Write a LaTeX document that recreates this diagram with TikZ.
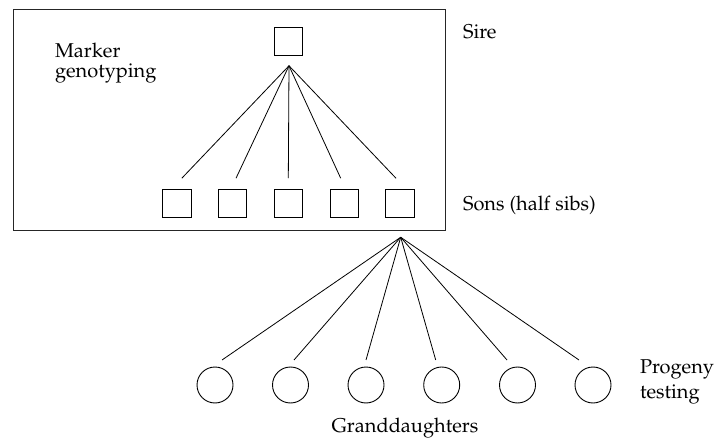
\documentclass[tikz,border=0pt]{standalone}
\usepackage[T1]{fontenc}
\usepackage{mathpazo}
\usetikzlibrary{calc}
\begin{document}
\begin{tikzpicture}[x=1pt,y=-1pt,
  every node/.style={inner sep=0pt, outer sep=0pt},
  frame/.style={draw, line width=1pt, black!85},
  sqbox/.style={draw, line width=0.9pt, minimum size=28.5pt},
  kid/.style={draw, circle, line width=0.9pt, minimum size=36pt},
  link/.style={line width=0.8pt},
  lbl/.style={font=\fontsize{20}{20}\selectfont, anchor=base west, align=left}]
\useasboundingbox (0,0) rectangle (717,438);

% genotyped part of the pedigree
\node[frame, minimum width=432pt, minimum height=221pt] (box) at (229.5,120.5) {};

% sire and its sons
\node[sqbox] (sire) at (288.5,41.5) {};
\coordinate (sireapex) at ($(sire.south)+(0.5,10)$);
\foreach \i/\x/\dx in {1/176.8/5,2/232.5/3.5,3/288.3/0,4/344.2/-3.5,5/400/-4}{
  \node[sqbox] (son\i) at (\x,203.5) {};
  \coordinate (st\i) at ($(son\i.north)+(\dx,-11)$);
  \draw[link] (sireapex) -- (st\i);
}

% granddaughters of the sire, daughters of one son
\coordinate (sonapex) at ($(son5.south)+(0.7,19.5)$);
\foreach \i/\x/\dx in {1/215/7,2/290.5/3.5,3/366/0,4/441.7/-6,5/517.5/-10.5,6/593/-14}{
  \node[kid] (gd\i) at (\x,385) {};
  \coordinate (gt\i) at ($(gd\i.north)+(\dx,-7)$);
  \draw[link] (sonapex) -- (gt\i);
}

% labels (base anchor of a two-line label sits on its last line)
\node[lbl] (lmark) at (55,78) {Marker\\genotyping};
\node[lbl] (lsire) at (463,39) {Sire};
\node[lbl] (lsons) at (463,211) {Sons (half sibs)};
\node[lbl, font=\fontsize{20}{25}\selectfont] (lprog) at (640,398) {Progeny\\testing};
\node[font=\fontsize{20}{20}\selectfont, anchor=base] (lgd) at (405,432) {Granddaughters};
\end{tikzpicture}
\end{document}
